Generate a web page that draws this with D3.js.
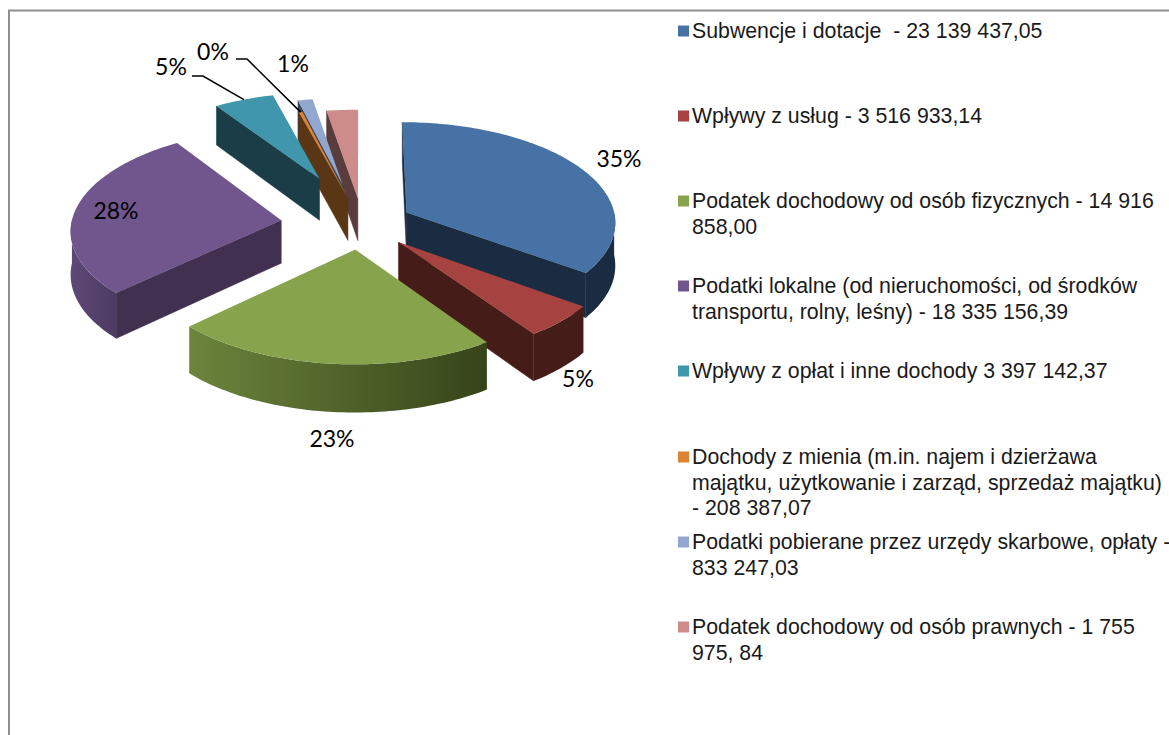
<!DOCTYPE html>
<html>
<head>
<meta charset="utf-8">
<script src="https://cdn.jsdelivr.net/npm/d3@7"></script>
<style>
  html, body { margin: 0; padding: 0; background: #fff; overflow: hidden; }
</style>
</head>
<body>
<div id="chart"></div>
<script>
// Chart data
var categories = [
  "Subwencje i dotacje",
  "Wpływy z usług",
  "Podatek dochodowy od osób fizycznych",
  "Podatki lokalne",
  "Wpływy z opłat i inne dochody",
  "Dochody z mienia",
  "Podatki pobierane przez urzędy skarbowe, opłaty",
  "Podatek dochodowy od osób prawnych"
];
var values = [23139437.05, 3516933.14, 14916858.00, 18335156.39, 3397142.37, 208387.07, 833247.03, 1755975.84];
var legendLines = [
  ["Subwencje i dotacje  - 23 139 437,05"],
  ["Wpływy z usług - 3 516 933,14"],
  ["Podatek dochodowy od osób fizycznych - 14 916", "858,00"],
  ["Podatki lokalne (od nieruchomości, od środków", "transportu, rolny, leśny) - 18 335 156,39"],
  ["Wpływy z opłat i inne dochody 3 397 142,37"],
  ["Dochody z mienia (m.in. najem i dzierżawa", "majątku, użytkowanie i zarząd, sprzedaż majątku)", "- 208 387,07"],
  ["Podatki pobierane przez urzędy skarbowe, opłaty -", "833 247,03"],
  ["Podatek dochodowy od osób prawnych - 1 755", "975, 84"]
];

// Styling per slice
var topColors  = ["#4672a6", "#a64340", "#87a34b", "#70568c", "#3f96ad", "#db8433", "#92a7cf", "#cd8b8a"];
var wallColors = ["#1a2c42", "#461c18", "#3f4e20", "#41304f", "#1a3d47", "#5a3614", "#3a4559", "#5a3c3c"];
var outerFrom  = ["#1a2c42", "#461c18", "#6c843c", "#5e4976", "#1a3d47", "#5a3614", "#3a4559", "#5a3c3c"];
var outerTo    = ["#1a2c42", "#461c18", "#364419", "#4d3b63", "#1a3d47", "#5a3614", "#3a4559", "#5a3c3c"];

// Layout per slice: radial explosion and small screen nudge
var explode = [0.30, 0.33, 0.29, 0.34, 0.47, 0.25, 0.39, 0.24];
var nudge   = [[-1, 4], [-3, -4], [9.5, -2], [0, 2], [7, -2], [9, 0], [7, 0], [10, 0]];
var drawOrder = [7, 6, 5, 4, 3, 0, 1, 2];

// Percent labels: [x, y] of text centre, pink slice has none
var labelPos = [[619, 159], [578, 379], [332, 439], [116, 211], [171, 67], [213, 52], [293, 64], null];
var leaderFrom = [null, null, null, null, [192, 76, 203], [236, 59, 247], null, null];

var width = 1169, height = 735;
var cx = 352, cy = 222, rx = 210, ry = 100, depth = 43, persp = 12;

var svg = d3.select("#chart").append("svg")
  .attr("width", width)
  .attr("height", height)
  .style("display", "block");

var defs = svg.append("defs");

// Frame, only top and left sides are inside the picture
svg.append("rect")
  .attr("x", 9).attr("y", 10.5)
  .attr("width", width + 20).attr("height", height + 20)
  .attr("fill", "#fff")
  .attr("stroke", "#8f8f8f")
  .attr("stroke-width", 2);

var pie = d3.pie().sort(null).value(function(d) { return d; });
var slices = pie(values);
var total = d3.sum(values);
var pct = d3.format(".0%");

// Pie plane to screen, with simple perspective
function project(px, py, z, n) {
  var s = persp / (persp - py);
  return [cx + rx * px * s + n[0], cy + ry * py * s + z * s + n[1]];
}

var line = d3.line();

slices.forEach(function(d, i) {
  var mid = (d.startAngle + d.endAngle) / 2;
  d.ex = explode[i] * Math.sin(mid);
  d.ey = -explode[i] * Math.cos(mid);
  d.n = nudge[i];
  d.mid = mid;
  d.index = i;
});

function rim(d, a, z) {
  return project(d.ex + Math.sin(a), d.ey - Math.cos(a), z, d.n);
}
function apex(d, z) {
  return project(d.ex, d.ey, z, d.n);
}
function arcAngles(a0, a1) {
  var n = Math.max(2, Math.ceil((a1 - a0) / 0.02));
  return d3.range(n + 1).map(function(k) { return a0 + (a1 - a0) * k / n; });
}

var pieG = svg.append("g").attr("class", "pie");

drawOrder.forEach(function(i) {
  var d = slices[i];
  var g = pieG.append("g").attr("class", "slice-" + i);
  var a0 = d.startAngle, a1 = d.endAngle;

  // straight walls: start edge faces the viewer on the left half, end edge on the right half
  function wall(a) {
    g.append("path")
      .attr("d", line([apex(d, 0), rim(d, a, 0), rim(d, a, depth), apex(d, depth)]) + "Z")
      .attr("fill", wallColors[i])
      .attr("stroke", wallColors[i])
      .attr("stroke-width", 0.5);
  }
  if (Math.sin(a0) <= 1e-6) wall(a0);
  if (Math.sin(a1) >= 1e-6) wall(a1);

  // outer wall, only the part on the front half
  var f0 = Math.max(a0, Math.PI / 2), f1 = Math.min(a1, Math.PI * 1.5);
  if (f1 > f0) {
    var ang = arcAngles(f0, f1);
    var top = ang.map(function(a) { return rim(d, a, 0); });
    var bottom = ang.map(function(a) { return rim(d, a, depth); }).reverse();
    var xs = d3.extent(top, function(p) { return p[0]; });
    var grad = defs.append("linearGradient")
      .attr("id", "outer" + i)
      .attr("gradientUnits", "userSpaceOnUse")
      .attr("x1", xs[0]).attr("x2", xs[1]).attr("y1", 0).attr("y2", 0);
    grad.append("stop").attr("offset", 0).attr("stop-color", outerFrom[i]);
    grad.append("stop").attr("offset", 1).attr("stop-color", outerTo[i]);
    g.append("path")
      .attr("d", line(top.concat(bottom)) + "Z")
      .attr("fill", "url(#outer" + i + ")");
  }

  // top face
  var face = [apex(d, 0)].concat(arcAngles(a0, a1).map(function(a) { return rim(d, a, 0); }));
  g.append("path")
    .attr("d", line(face) + "Z")
    .attr("fill", topColors[i]);
});

// Leader lines, ending on the rim of their slice
leaderFrom.forEach(function(l, i) {
  if (!l) return;
  var end = rim(slices[i], slices[i].mid, 0);
  svg.append("path")
    .attr("d", line([[l[0], l[1]], [l[2], l[1]], end]))
    .attr("fill", "none")
    .attr("stroke", "#000")
    .attr("stroke-width", 1.5);
});

// Percent labels
svg.append("g")
  .attr("font-family", "Lato, 'Open Sans', sans-serif")
  .attr("font-size", 23)
  .attr("fill", "#000")
  .selectAll("text")
  .data(slices.filter(function(d) { return labelPos[d.index]; }))
  .join("text")
  .attr("x", function(d) { return labelPos[d.index][0]; })
  .attr("y", function(d) { return labelPos[d.index][1]; })
  .attr("dy", "0.36em")
  .attr("text-anchor", "middle")
  .text(function(d) { return pct(d.data / total); });

// Legend
var legendTop = [30.5, 115.5, 200.5, 285.5, 370.5, 456.5, 541.5, 626.5];
var legendLine = 25.5;
var legend = svg.append("g")
  .attr("font-family", "'Liberation Sans', Arial, sans-serif")
  .attr("font-size", 21.3)
  .attr("fill", "#1a1a1a")
  .selectAll("g")
  .data(categories)
  .join("g")
  .attr("transform", function(d, i) { return "translate(678," + legendTop[i] + ")"; });

legend.append("rect")
  .attr("x", 0).attr("y", -5)
  .attr("width", 11).attr("height", 11)
  .attr("fill", function(d, i) { return topColors[i]; });

legend.append("text")
  .attr("x", 14)
  .style("white-space", "pre")
  .selectAll("tspan")
  .data(function(d, i) { return legendLines[i]; })
  .join("tspan")
  .attr("x", 14)
  .attr("y", function(d, k) { return k * legendLine; })
  .attr("dy", "0.36em")
  .text(function(d) { return d; });
</script>
</body>
</html>
